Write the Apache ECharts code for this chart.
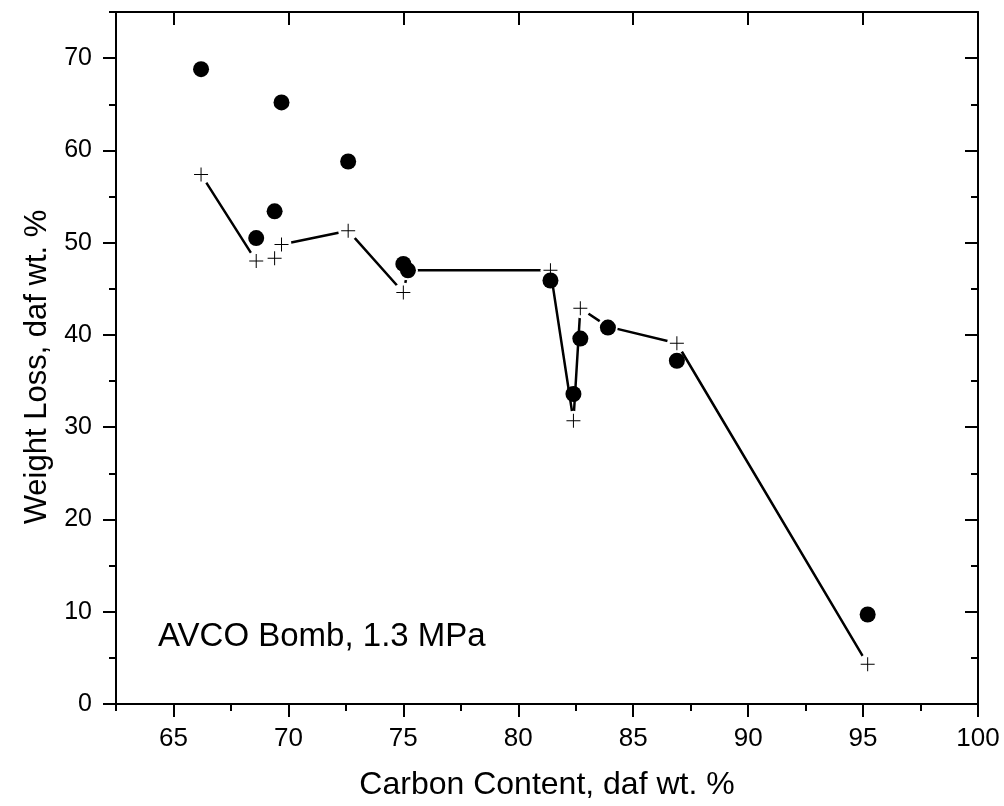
<!DOCTYPE html>
<html>
<head>
<meta charset="utf-8">
<script src="https://cdn.jsdelivr.net/npm/echarts@6/dist/echarts.min.js"></script>
<style>
html,body{margin:0;padding:0;background:#fff;}
#chart{width:1004px;height:806px;}
</style>
</head>
<body>
<div id="chart"></div>
<script>
// ---- data ----
const carbon    = [66.2, 68.6, 69.4, 69.7, 72.6, 75.0, 75.2, 81.4, 82.4, 82.7, 83.9, 86.9, 95.2];
const measured  = [68.8, 50.5, 53.4, 65.2, 58.8, 47.7, 47.0, 45.9, 33.6, 39.6, 40.8, 37.2, 9.7];
const predicted = [57.4, 48.0, 48.3, 49.8, 51.3, 44.6, 47.0, 47.0, 30.7, 42.9, 40.9, 39.1, 4.3];
const xMajorTicks = [65, 70, 75, 80, 85, 90, 95, 100];
const xMinorTicks = [62.5, 67.5, 72.5, 77.5, 82.5, 87.5, 92.5, 97.5];
const yMajorTicks = [0, 10, 20, 30, 40, 50, 60, 70];
const yMinorTicks = [5, 15, 25, 35, 45, 55, 65, 75];
const xTitle = 'Carbon Content, daf wt. %';
const yTitle = 'Weight Loss, daf wt. %';
const note = 'AVCO Bomb, 1.3 MPa';

const FONT = '"Liberation Sans", Arial, sans-serif';
const measuredPts = carbon.map((c, i) => [c, measured[i]]);
const predictedPts = carbon.map((c, i) => [c, predicted[i]]);

function xAx(opts) {
  return Object.assign({
    type: 'value', min: 62.5, max: 100, position: 'bottom',
    splitLine: { show: false },
    axisLine: { show: false, lineStyle: { color: '#000', width: 2 } },
    axisLabel: { show: false },
    axisTick: { show: false }
  }, opts);
}
function yAx(opts) {
  return Object.assign({
    type: 'value', min: 0, max: 75, position: 'left',
    splitLine: { show: false },
    axisLine: { show: false, lineStyle: { color: '#000', width: 2 } },
    axisLabel: { show: false },
    axisTick: { show: false }
  }, opts);
}
const tickStyle = { color: '#000', width: 2 };

const chart = echarts.init(document.getElementById('chart'), null, { renderer: 'canvas' });
chart.setOption({
  animation: false,
  backgroundColor: '#fff',
  grid: { left: 116, right: 26, top: 12, bottom: 99, containLabel: false },
  xAxis: [
    xAx({
      axisLine: { show: true, onZero: false, lineStyle: { color: '#000', width: 2 } },
      axisTick: { show: true, inside: false, length: 13, lineStyle: tickStyle, customValues: xMajorTicks },
      axisLabel: { show: true, customValues: xMajorTicks, margin: 22, color: '#000', fontSize: 26, fontFamily: FONT },
      name: xTitle, nameLocation: 'middle', nameGap: 65,
      nameTextStyle: { color: '#000', fontSize: 32, fontFamily: FONT }
    }),
    xAx({ axisTick: { show: true, inside: false, length: 7, lineStyle: tickStyle, customValues: xMinorTicks } }),
    xAx({ position: 'top', axisLine: { show: true, onZero: false, lineStyle: { color: '#000', width: 2 } },
          axisTick: { show: true, inside: true, length: 13, lineStyle: tickStyle, customValues: xMajorTicks } }),
    xAx({ position: 'top', axisTick: { show: true, inside: true, length: 7, lineStyle: tickStyle, customValues: xMinorTicks } })
  ],
  yAxis: [
    yAx({
      axisLine: { show: true, onZero: false, lineStyle: { color: '#000', width: 2 } },
      axisTick: { show: true, inside: false, length: 13, lineStyle: tickStyle, customValues: yMajorTicks },
      axisLabel: { show: true, customValues: yMajorTicks, margin: 24, color: '#000', fontSize: 25, fontFamily: FONT },
      name: yTitle, nameLocation: 'middle', nameGap: 58, nameRotate: 90,
      nameTextStyle: { color: '#000', fontSize: 31, fontFamily: FONT, padding: [0, 18, 0, 0] }
    }),
    yAx({ axisTick: { show: true, inside: false, length: 7, lineStyle: tickStyle, customValues: yMinorTicks } }),
    yAx({ position: 'right', axisLine: { show: true, onZero: false, lineStyle: { color: '#000', width: 2 } },
          axisTick: { show: true, inside: true, length: 13, lineStyle: tickStyle, customValues: yMajorTicks } }),
    yAx({ position: 'right', axisTick: { show: true, inside: true, length: 7, lineStyle: tickStyle, customValues: yMinorTicks } })
  ],
  series: [
    {
      type: 'line', name: 'line', data: predictedPts, xAxisIndex: 0, yAxisIndex: 0,
      showSymbol: false, symbol: 'none', z: 2,
      lineStyle: { color: '#000', width: 2.5 }, silent: true
    },
    {
      type: 'scatter', name: 'gap', data: predictedPts, xAxisIndex: 0, yAxisIndex: 0,
      symbol: 'circle', symbolSize: 20, z: 3, silent: true,
      itemStyle: { color: '#fff', opacity: 1 }
    },
    {
      type: 'scatter', name: 'predicted', data: predictedPts, xAxisIndex: 0, yAxisIndex: 0,
      symbol: 'path://M0,6.5h14v1h-14z M6.5,0h1v14h-1z', symbolSize: 14, z: 4, silent: true,
      itemStyle: { color: '#000', opacity: 1 }
    },
    {
      type: 'scatter', name: 'measured', data: measuredPts, xAxisIndex: 0, yAxisIndex: 0,
      symbol: 'circle', symbolSize: 16, z: 5, silent: true,
      itemStyle: { color: '#000', opacity: 1 }
    }
  ],
  graphic: [
    {
      type: 'text', left: 158, top: 620, z: 10,
      style: { text: note, fill: '#000', fontSize: 33, fontFamily: FONT }
    }
  ]
});
</script>
</body>
</html>
